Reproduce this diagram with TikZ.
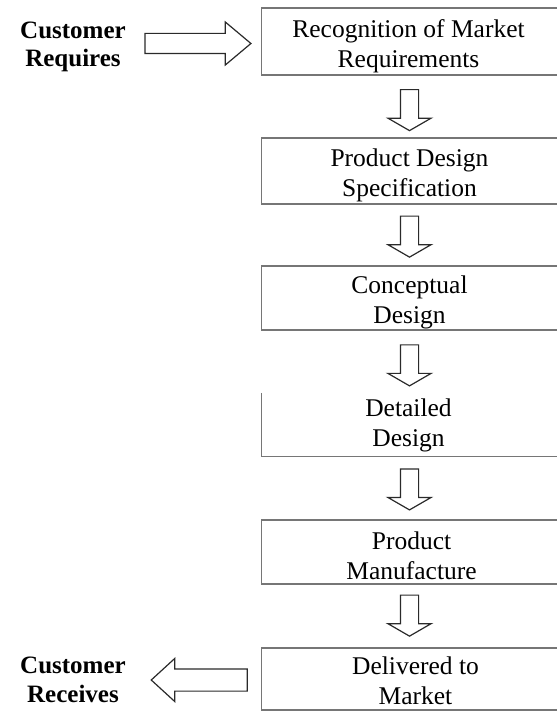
\documentclass[tikz,border=0pt]{standalone}
\usepackage{fontspec}
\setmainfont{Liberation Serif}
\usetikzlibrary{shapes.arrows,calc}
\definecolor{boxgray}{HTML}{767676}
\definecolor{arrowgray}{HTML}{2A2A2A}
\begin{document}
\begin{tikzpicture}[x=1pt,y=-1pt,
  stagetext/.style={align=center,inner sep=0pt,font=\fontsize{25.5}{30}\selectfont},
  stage/.style={draw=boxgray,line width=1.3pt,minimum width=296pt,inner sep=0pt},
  openstage/.style={minimum width=296pt,inner sep=0pt},
  boxline/.style={draw=boxgray,line width=1.3pt},
  who/.style={align=center,inner sep=0pt,font=\bfseries\fontsize{25}{28.5}\selectfont},
  dnarrow/.style={single arrow,draw=arrowgray,line width=1.2pt,rotate=-90,
    inner xsep=0pt,inner ysep=8.5pt,single arrow head extend=12.5pt,
    single arrow tip angle=120,minimum height=41pt},
  inarrow/.style={single arrow,draw=arrowgray,line width=1.2pt,
    inner xsep=0pt,inner ysep=9.5pt,single arrow head extend=11.5pt,
    single arrow tip angle=80,minimum height=106pt},
  outarrow/.style={single arrow,draw=arrowgray,line width=1.2pt,rotate=180,
    inner xsep=0pt,inner ysep=10.5pt,single arrow head extend=10.5pt,
    single arrow tip angle=85,minimum height=96pt}]
\useasboundingbox (0,0) rectangle (556,711);

% process stage frames (right side runs off the page)
\node[stage,minimum height=67pt] (b1) at (409.5,41.5) {};
\node[stage,minimum height=66pt] (b2) at (409.5,171) {};
\node[stage,minimum height=64pt] (b3) at (409.5,298) {};
\node[openstage,minimum height=63pt] (b4) at (409.5,424.5) {};
\node[stage,minimum height=64pt] (b5) at (409.5,552) {};
\node[stage,minimum height=62pt] (b6) at (409.5,679) {};
\draw[boxline] (b4.north west) -- (b4.south west) -- (b4.south east);

% stage titles, set a little below each frame's centre
\node[stagetext] (t1) at ($(b1.center)+(-1,5)$) {Recognition of Market\\Requirements};
\node[stagetext] (t2) at ($(b2.center)+(0,4)$) {Product Design\\Specification};
\node[stagetext] (t3) at ($(b3.center)+(0,4)$) {Conceptual\\Design};
\node[stagetext] (t4) at ($(b4.center)+(-1,1)$) {Detailed\\Design};
\node[stagetext] (t5) at ($(b5.center)+(2,4)$) {Product\\Manufacture};
\node[stagetext] (t6) at ($(b6.center)+(6,2)$) {Delivered to\\Market};

% customer side
\node[who] (req) at (73,47) {Customer\\Requires};
\node[who] (rec) at (73,680) {Customer\\Receives};

% flow between stages
\node[dnarrow] (a1) at ($(b1.south)!0.5!(b2.north)+(0,1)$) {};
\node[dnarrow] (a2) at ($(b2.south)!0.5!(b3.north)+(0,-1)$) {};
\node[dnarrow] (a3) at ($(b3.south)!0.5!(b4.north)+(0,1)$) {};
\node[dnarrow] (a4) at ($(b4.south)!0.5!(b5.north)+(0,-1)$) {};
\node[dnarrow] (a5) at ($(b5.south)!0.5!(b6.north)+(0,-3)$) {};

% input and output arrows
\node[inarrow,anchor=tip] (ain) at ($(b1.west)+(-9,2)$) {};
\node[outarrow,anchor=tail] (aout) at ($(b6.west)+(-13,1)$) {};
\end{tikzpicture}
\end{document}
